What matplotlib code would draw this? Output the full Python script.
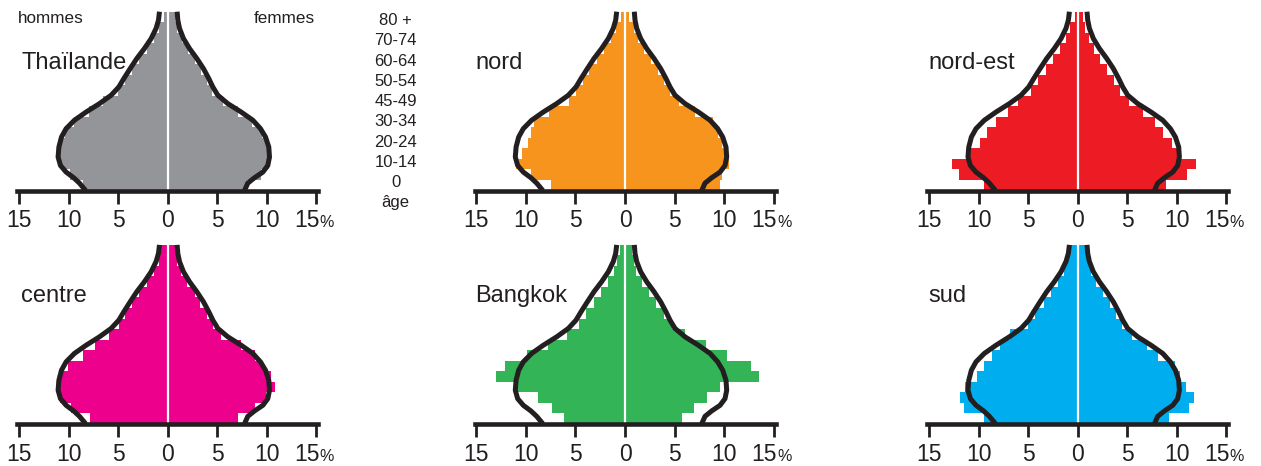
import matplotlib.pyplot as plt

plt.rcParams['font.family'] = ['Liberation Sans', 'DejaVu Sans']

INK = '#231f20'

# 17 five-year age groups, 0-4 ... 80+ (group i spans i..i+1)
edges = list(range(18))

# % of population, hommes (left) / femmes (right)
thailande_h = [8.6, 9.9, 10.8, 11.0, 10.8, 10.4, 9.5, 8.0, 6.5, 5.0, 4.3, 3.6, 2.9, 2.1, 1.4, 0.9, 0.4]
thailande_f = [8.0, 9.4, 10.2, 10.3, 10.1, 9.5, 8.5, 7.1, 5.6, 4.5, 4.0, 3.4, 2.7, 2.0, 1.4, 0.9, 0.7]
nord_h = [7.5, 9.5, 11.0, 10.4, 9.8, 9.5, 9.2, 7.7, 5.7, 4.9, 4.2, 3.6, 2.8, 2.1, 1.4, 0.9, 0.4]
nord_f = [9.6, 9.8, 10.5, 10.2, 9.8, 9.4, 8.9, 7.1, 5.5, 4.5, 3.9, 3.3, 2.6, 1.9, 1.3, 0.9, 0.4]
nordest_h = [9.5, 12.0, 12.7, 10.9, 9.9, 9.2, 8.3, 7.0, 6.0, 4.7, 4.0, 3.2, 2.5, 1.8, 1.2, 0.8, 0.3]
nordest_f = [8.9, 11.0, 11.9, 10.3, 9.5, 8.6, 7.8, 6.6, 5.2, 4.3, 3.7, 3.0, 2.3, 1.6, 1.1, 0.7, 0.55]
centre_h = [7.9, 9.8, 10.9, 11.0, 10.8, 10.1, 8.6, 7.4, 5.9, 4.9, 4.3, 3.6, 2.9, 2.1, 1.4, 0.9, 0.8]
centre_f = [7.1, 8.8, 9.9, 10.8, 10.4, 9.6, 8.8, 7.4, 5.4, 4.6, 4.0, 3.3, 2.7, 1.9, 1.3, 0.9, 1.0]
bangkok_h = [6.2, 7.4, 8.8, 10.9, 13.0, 12.1, 9.9, 7.8, 5.9, 4.6, 3.9, 3.1, 2.4, 1.7, 1.1, 0.8, 0.5]
bangkok_f = [5.8, 7.0, 8.3, 9.6, 13.5, 12.7, 10.3, 8.2, 6.1, 4.7, 3.9, 3.1, 2.4, 1.7, 1.1, 0.9, 0.7]
sud_h = [9.5, 11.5, 11.9, 11.4, 10.2, 9.5, 8.7, 7.8, 6.8, 5.0, 4.3, 3.4, 2.7, 2.0, 1.4, 1.2, 1.1]
sud_f = [9.2, 11.2, 11.7, 10.9, 10.3, 9.8, 8.1, 7.0, 5.5, 4.5, 3.9, 3.3, 2.6, 1.8, 1.3, 1.1, 1.0]

# national outline, drawn over every pyramid (age position in group units)
curve_y = [0.0, 0.7, 1.21, 1.75, 2.38, 3.18, 4.13, 5.08, 5.88, 6.68, 7.46,
           8.26, 9.06, 9.84, 10.64, 11.59, 12.55, 13.5, 14.45, 15.42, 16.2, 17.0]
curve_h = [8.3, 8.92, 9.5, 10.27, 10.84, 11.08, 11.0, 10.74, 10.27, 9.43, 8.25,
           6.9, 5.72, 4.95, 4.44, 3.8, 3.13, 2.36, 1.68, 1.18, 0.94, 0.84]
curve_f = [7.75, 8.08, 8.75, 9.6, 10.1, 10.27, 10.2, 9.87, 9.36, 8.59, 7.41,
           6.06, 5.05, 4.55, 4.14, 3.6, 2.93, 2.19, 1.58, 1.18, 1.01, 0.94]

age_labels = ['80 +', '70-74', '60-64', '50-54', '45-49', '30-34', '20-24', '10-14', '0', 'âge']
ticks = [-15, -10, -5, 0, 5, 10, 15]

panels = [
    ('Thaïlande', '#939598', thailande_h, thailande_f),
    ('nord', '#f7941d', nord_h, nord_f),
    ('nord-est', '#ed1c24', nordest_h, nordest_f),
    ('centre', '#ec008c', centre_h, centre_f),
    ('Bangkok', '#33b457', bangkok_h, bangkok_f),
    ('sud', '#00aeef', sud_h, sud_f),
]

W, H = 1261, 466
fig = plt.figure(figsize=(W / 100, H / 100), dpi=100)

col_left = [17.3, 474.5, 927.2]   # px
title_x = [-14.8, -15.15, -15.1]
row_bottom = [190.5, 423.7]      # px from top, axis line
ax_w, ax_h = 301.0, 178.8


def draw_pyramid(ax, title, tx, color, men, women):
    # one filled staircase per side, no seams between groups
    ax.stairs([-v for v in men], edges, orientation='horizontal', baseline=0,
              fill=True, color=color, lw=0)
    ax.stairs(women, edges, orientation='horizontal', baseline=0,
              fill=True, color=color, lw=0)
    ax.plot([0, 0], [0, 17], color='white', lw=1.6)
    ax.plot([-v for v in curve_h], curve_y, color=INK, lw=3.6,
            solid_joinstyle='round', solid_capstyle='butt', clip_on=False)
    ax.plot(curve_f, curve_y, color=INK, lw=3.6,
            solid_joinstyle='round', solid_capstyle='butt', clip_on=False)

    ax.set_xlim(-15.2, 15.2)
    ax.set_ylim(0, 17)
    for s in ['left', 'right', 'top']:
        ax.spines[s].set_visible(False)
    ax.spines['bottom'].set_linewidth(3.3)
    ax.spines['bottom'].set_color(INK)
    ax.spines['bottom'].set_zorder(5)
    ax.set_yticks([])
    ax.set_xticks(ticks)
    ax.tick_params(axis='x', length=9, width=2, color=INK, labelbottom=False)
    ax.patch.set_alpha(0)

    tr = ax.get_xaxis_transform()
    for t in ticks[:-1]:
        ax.annotate(str(abs(t)), xy=(t, 0), xycoords=tr, xytext=(0, -26.6),
                    textcoords='offset points', ha='center', va='baseline',
                    fontsize=16.5, color=INK)
    ax.annotate('15', xy=(15, 0), xycoords=tr, xytext=(2.5, -26.6),
                textcoords='offset points', ha='right', va='baseline',
                fontsize=16.5, color=INK)
    ax.annotate('%', xy=(15, 0), xycoords=tr, xytext=(2.5, -26.6),
                textcoords='offset points', ha='left', va='baseline',
                fontsize=11.5, color=INK)

    ax.text(tx, 0.68, title, transform=tr, fontsize=17, va='baseline', color=INK)


for k, (title, color, men, women) in enumerate(panels):
    r, c = divmod(k, 3)
    ax = fig.add_axes([col_left[c] / W, (H - row_bottom[r]) / H, ax_w / W, ax_h / H])
    draw_pyramid(ax, title, title_x[c], color, men, women)
    if k == 0:
        tr = ax.get_xaxis_transform()
        ax.text(-15.1, 0.938, 'hommes', transform=tr, fontsize=12.3, va='baseline', color=INK)
        ax.text(14.9, 0.938, 'femmes', transform=tr, fontsize=12.3, va='baseline',
                ha='right', color=INK)

# age column between the first two pyramids
for k, lab in enumerate(age_labels):
    base = 25 + 20.3 * k if k < 9 else 207.5
    fig.text(395.5 / W, 1 - base / H, lab, ha='center', va='baseline', fontsize=12, color=INK)

fig.savefig('out.png', dpi=100)
